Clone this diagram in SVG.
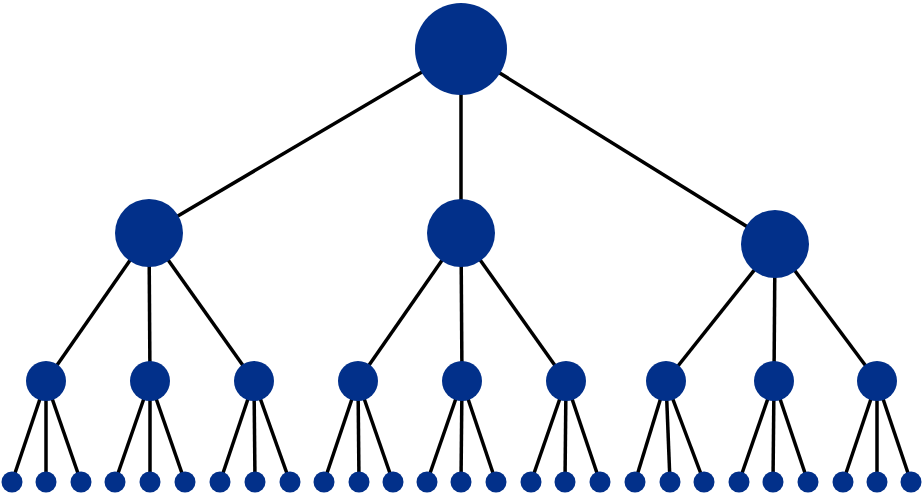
<svg xmlns="http://www.w3.org/2000/svg" width="923" height="502" viewBox="0 0 923 502">
<style>
.n{fill:#02308a}
.e line{stroke:#000;stroke-width:3.5}
</style>
<rect width="923" height="502" fill="#fff"/>
<g id="connectors" class="e">
<line x1="461" y1="49" x2="149" y2="233"/>
<line x1="461" y1="49" x2="461" y2="233"/>
<line x1="461" y1="49" x2="775" y2="244"/>
<line x1="149" y1="233" x2="46" y2="381"/>
<line x1="149" y1="233" x2="150" y2="381"/>
<line x1="149" y1="233" x2="254" y2="381"/>
<line x1="461" y1="233" x2="358" y2="381"/>
<line x1="461" y1="233" x2="462" y2="381"/>
<line x1="461" y1="233" x2="566" y2="381"/>
<line x1="775" y1="244" x2="666" y2="381"/>
<line x1="775" y1="244" x2="774" y2="381"/>
<line x1="775" y1="244" x2="877" y2="381"/>
<line x1="46" y1="381" x2="12" y2="482"/>
<line x1="46" y1="381" x2="46" y2="482"/>
<line x1="46" y1="381" x2="81" y2="482"/>
<line x1="150" y1="381" x2="115" y2="482"/>
<line x1="150" y1="381" x2="150" y2="482"/>
<line x1="150" y1="381" x2="185" y2="482"/>
<line x1="254" y1="381" x2="220" y2="482"/>
<line x1="254" y1="381" x2="255" y2="482"/>
<line x1="254" y1="381" x2="290" y2="482"/>
<line x1="358" y1="381" x2="324" y2="482"/>
<line x1="358" y1="381" x2="359" y2="482"/>
<line x1="358" y1="381" x2="393" y2="482"/>
<line x1="462" y1="381" x2="427" y2="482"/>
<line x1="462" y1="381" x2="461" y2="482"/>
<line x1="462" y1="381" x2="496" y2="482"/>
<line x1="566" y1="381" x2="531" y2="482"/>
<line x1="566" y1="381" x2="565" y2="482"/>
<line x1="566" y1="381" x2="600" y2="482"/>
<line x1="666" y1="381" x2="635" y2="482"/>
<line x1="666" y1="381" x2="670" y2="482"/>
<line x1="666" y1="381" x2="704" y2="482"/>
<line x1="774" y1="381" x2="739" y2="482"/>
<line x1="774" y1="381" x2="773" y2="482"/>
<line x1="774" y1="381" x2="808" y2="482"/>
<line x1="877" y1="381" x2="843" y2="482"/>
<line x1="877" y1="381" x2="877" y2="482"/>
<line x1="877" y1="381" x2="911" y2="482"/>
</g>
<g id="root"><circle class="n" cx="461" cy="49" r="46"/></g>
<g id="n1"><circle class="n" cx="149" cy="233" r="34"/></g>
<g id="n2"><circle class="n" cx="461" cy="233" r="34"/></g>
<g id="n3"><circle class="n" cx="775" cy="244" r="34"/></g>
<g id="n11"><circle class="n" cx="46" cy="381" r="20"/></g>
<g id="n12"><circle class="n" cx="150" cy="381" r="20"/></g>
<g id="n13"><circle class="n" cx="254" cy="381" r="20"/></g>
<g id="n21"><circle class="n" cx="358" cy="381" r="20"/></g>
<g id="n22"><circle class="n" cx="462" cy="381" r="20"/></g>
<g id="n23"><circle class="n" cx="566" cy="381" r="20"/></g>
<g id="n31"><circle class="n" cx="666" cy="381" r="20"/></g>
<g id="n32"><circle class="n" cx="774" cy="381" r="20"/></g>
<g id="n33"><circle class="n" cx="877" cy="381" r="20"/></g>
<g id="l111"><circle class="n" cx="12" cy="482" r="10.5"/></g>
<g id="l112"><circle class="n" cx="46" cy="482" r="10.5"/></g>
<g id="l113"><circle class="n" cx="81" cy="482" r="10.5"/></g>
<g id="l121"><circle class="n" cx="115" cy="482" r="10.5"/></g>
<g id="l122"><circle class="n" cx="150" cy="482" r="10.5"/></g>
<g id="l123"><circle class="n" cx="185" cy="482" r="10.5"/></g>
<g id="l131"><circle class="n" cx="220" cy="482" r="10.5"/></g>
<g id="l132"><circle class="n" cx="255" cy="482" r="10.5"/></g>
<g id="l133"><circle class="n" cx="290" cy="482" r="10.5"/></g>
<g id="l211"><circle class="n" cx="324" cy="482" r="10.5"/></g>
<g id="l212"><circle class="n" cx="359" cy="482" r="10.5"/></g>
<g id="l213"><circle class="n" cx="393" cy="482" r="10.5"/></g>
<g id="l221"><circle class="n" cx="427" cy="482" r="10.5"/></g>
<g id="l222"><circle class="n" cx="461" cy="482" r="10.5"/></g>
<g id="l223"><circle class="n" cx="496" cy="482" r="10.5"/></g>
<g id="l231"><circle class="n" cx="531" cy="482" r="10.5"/></g>
<g id="l232"><circle class="n" cx="565" cy="482" r="10.5"/></g>
<g id="l233"><circle class="n" cx="600" cy="482" r="10.5"/></g>
<g id="l311"><circle class="n" cx="635" cy="482" r="10.5"/></g>
<g id="l312"><circle class="n" cx="670" cy="482" r="10.5"/></g>
<g id="l313"><circle class="n" cx="704" cy="482" r="10.5"/></g>
<g id="l321"><circle class="n" cx="739" cy="482" r="10.5"/></g>
<g id="l322"><circle class="n" cx="773" cy="482" r="10.5"/></g>
<g id="l323"><circle class="n" cx="808" cy="482" r="10.5"/></g>
<g id="l331"><circle class="n" cx="843" cy="482" r="10.5"/></g>
<g id="l332"><circle class="n" cx="877" cy="482" r="10.5"/></g>
<g id="l333"><circle class="n" cx="911" cy="482" r="10.5"/></g>
</svg>
